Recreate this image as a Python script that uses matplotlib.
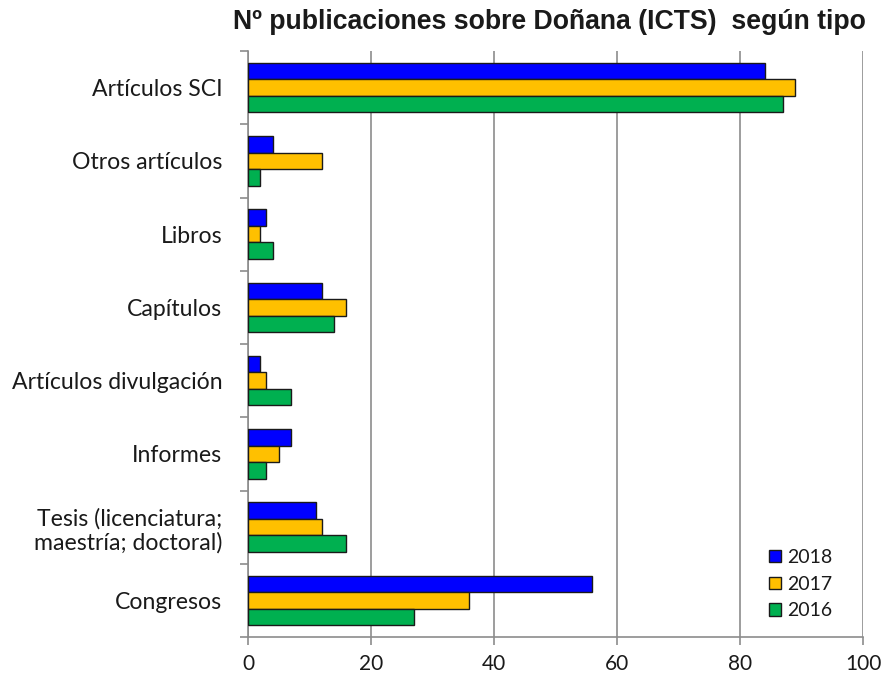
import matplotlib
matplotlib.use("Agg")
import matplotlib.pyplot as plt
import numpy as np

categories = ["Artículos SCI", "Otros artículos", "Libros", "Capítulos",
              "Artículos divulgación", "Informes",
              "Tesis (licenciatura;\nmaestría; doctoral)", "Congresos"]
years = ["2018", "2017", "2016"]
v2018 = [84, 4, 3, 12, 2, 7, 11, 56]
v2017 = [89, 12, 2, 16, 3, 5, 12, 36]
v2016 = [87, 2, 4, 14, 7, 3, 16, 27]
colors = ["#0000FF", "#FFC000", "#00B050"]

fig = plt.figure(figsize=(8.88, 6.82), dpi=100)
ax = fig.add_axes([248/888, 1-637/682, (863-248)/888, (637-51)/682])

n = len(categories)
y = np.arange(n)
h = 0.225
for i, (vals, lab, c) in enumerate(zip([v2018, v2017, v2016], years, colors)):
    ax.barh(y + (i - 1) * h, vals, height=h, color=c, edgecolor="#1a1a1a",
            linewidth=1.0, label=lab, zorder=3)

ax.set_ylim(n - 0.5, -0.5)
ax.set_xlim(0, 100)
ax.set_xticks([0, 20, 40, 60, 80, 100])
ax.xaxis.grid(True, color="#8c8c8c", linewidth=1.2, zorder=0)
ax.set_yticks(y)
ax.set_yticklabels(categories, family="Lato", fontsize=16.6, color="#1a1a1a",
                   linespacing=1.15)
ax.set_yticks(np.arange(-0.5, n, 1), minor=True)
ax.tick_params(axis="y", which="major", length=0, pad=18.5)
ax.tick_params(axis="y", which="minor", length=6, color="#8c8c8c", width=1.2)
ax.tick_params(axis="x", length=6, color="#8c8c8c", width=1.2, labelsize=15,
               labelcolor="#1a1a1a", pad=6)
for lbl in ax.get_xticklabels():
    lbl.set_family("Lato")
for s in ["top", "right"]:
    ax.spines[s].set_visible(False)
for s in ["left", "bottom"]:
    ax.spines[s].set_color("#8c8c8c")
    ax.spines[s].set_linewidth(1.2)

leg = ax.legend(loc="lower right", bbox_to_anchor=(0.978, 0.0), frameon=False,
                prop={"family": "Lato", "size": 14}, handlelength=0.6,
                handleheight=0.6, handletextpad=0.3, labelspacing=0.5)
for t in leg.get_texts():
    t.set_color("#1a1a1a")

fig.text(549/888, 1 - 22/682, "Nº publicaciones sobre Doñana (ICTS)  según tipo",
         ha="center", va="center", fontsize=19.2, fontweight="bold",
         family="Liberation Sans", color="#1a1a1a")

fig.savefig("out.png", dpi=100)
